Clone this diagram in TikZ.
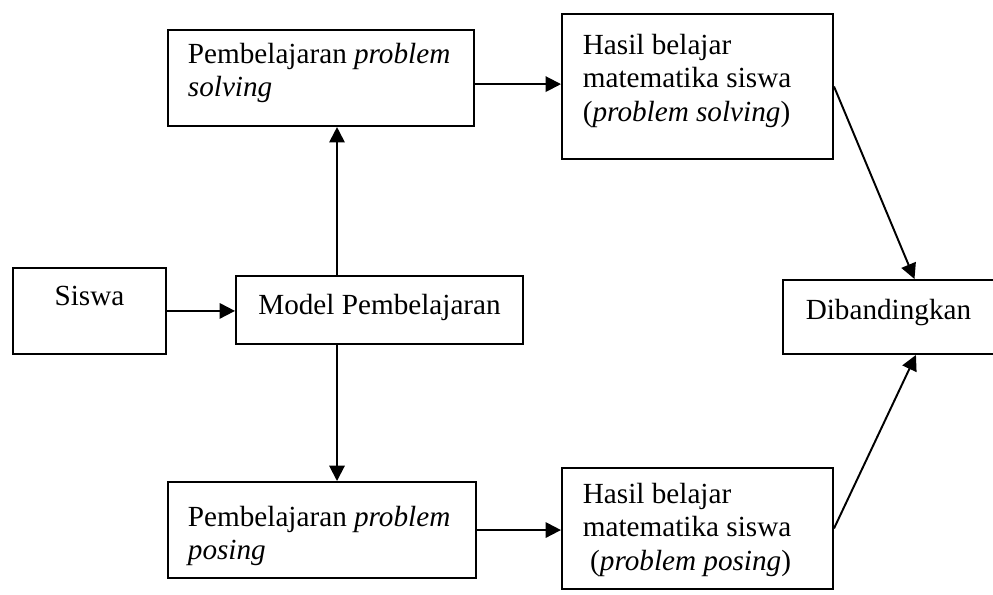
\documentclass[tikz,border=0pt]{standalone}
\usepackage{fontspec}
\setmainfont{Liberation Serif}
\usepackage{xcolor}
\usepackage{tikz}
\usetikzlibrary{shapes,arrows.meta,positioning,calc}

\tikzset{
  box/.style={draw, rectangle, anchor=north west, inner ysep=0pt, line width=0.8pt},
  link/.style={line width=0.8pt, -{Triangle[length=6.3pt,width=6.3pt]}},
  plain/.style={line width=0.8pt}
}

\begin{document}
\begin{tikzpicture}[x=0.411pt, y=-0.411pt, font=\fontsize{12}{13.8}\selectfont]
\useasboundingbox (0,0) rectangle (993,594);

\node[box, inner xsep=0pt] (siswa) at (12,267) {
    \begin{minipage}[c][35.3pt][t]{62.9pt}
    \centering\vspace*{7.4pt}Siswa
    \end{minipage}
};
\node[box, inner xsep=0pt] (model) at (235,275) {
    \begin{minipage}[c][27.9pt][t]{118pt}
    \centering\vspace*{7.4pt}Model Pembelajaran
    \end{minipage}
};
\node[box, inner xsep=8.2pt] (solving) at (167,29) {
    \begin{minipage}[c][39.5pt][t]{109.4pt}
    \raggedright\vspace*{5.3pt}Pembelajaran \textit{problem solving}
    \end{minipage}
};
\node[box, inner xsep=8.2pt] (posing) at (167,481) {
    \begin{minipage}[c][39.5pt][t]{110.2pt}
    \raggedright\vspace*{9.9pt}Pembelajaran \textit{problem posing}
    \end{minipage}
};
\node[box, inner xsep=8.6pt] (hasilA) at (561,13) {
    \begin{minipage}[c][59.6pt][t]{94.2pt}
    \raggedright\vspace*{8.2pt}Hasil belajar\\
    matematika siswa\\
    (\textit{problem solving})
    \end{minipage}
};
\node[box, inner xsep=8.6pt] (hasilB) at (561,467) {
    \begin{minipage}[c][49.7pt][t]{94.2pt}
    \raggedright\vspace*{6.2pt}Hasil belajar\\
    matematika siswa\\
    \hspace*{0.25em}(\textit{problem posing})
    \end{minipage}
};
\node[box, inner xsep=0pt] (dib) at (782,279) {
    \begin{minipage}[c][30.4pt][t]{86.7pt}
    \centering\vspace*{7.8pt}Dibandingkan
    \end{minipage}
};

% connectors
\coordinate (vx) at (337,0);
\draw[link] (siswa.east) -- (siswa.east -| model.west);
\draw[link] (model.north -| vx) -- (solving.south -| vx);
\draw[link] (model.south -| vx) -- (posing.north -| vx);
\draw[link] ([yshift=-2.5pt]solving.east) -- ([yshift=-2.5pt]solving.east -| hasilA.west);
\draw[link] (posing.east) -- (posing.east -| hasilB.west);
\draw[link] (hasilA.east) -- ([xshift=10.7pt]dib.north);
\draw[link] (hasilB.east) -- ([xshift=11.3pt]dib.south);
\end{tikzpicture}
\end{document}
